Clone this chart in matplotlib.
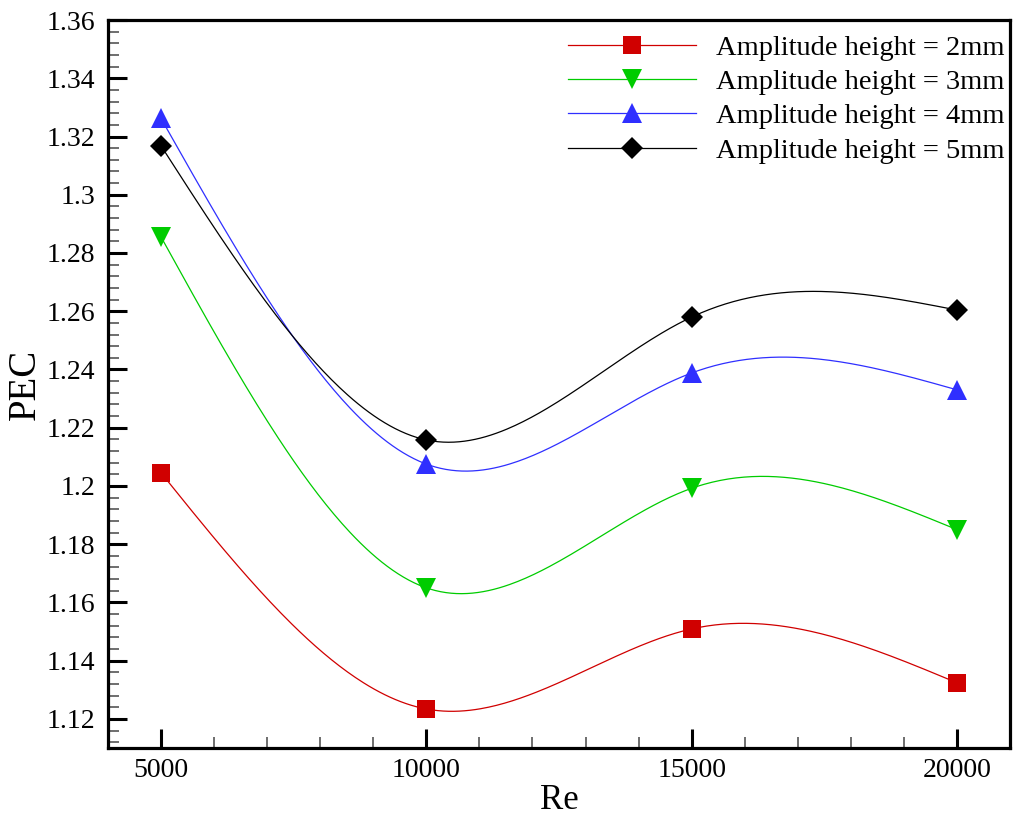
import numpy as np
import matplotlib
matplotlib.use("Agg")
import matplotlib.pyplot as plt
from matplotlib.ticker import MultipleLocator, FuncFormatter
from matplotlib.lines import Line2D

re_vals = [5000, 10000, 15000, 20000]
pec_2mm = [1.2045, 1.1234, 1.1509, 1.1324]
pec_3mm = [1.2855, 1.1650, 1.1992, 1.1850]
pec_4mm = [1.3262, 1.2075, 1.2388, 1.2330]
pec_5mm = [1.3168, 1.2158, 1.2580, 1.2604]
labels = ["Amplitude height = 2mm", "Amplitude height = 3mm",
          "Amplitude height = 4mm", "Amplitude height = 5mm"]


def natural_spline(x, y, n=300):
    x = np.asarray(x, float)
    y = np.asarray(y, float)
    m = len(x)
    h = np.diff(x)
    A = np.zeros((m, m))
    b = np.zeros(m)
    A[0, 0] = 1
    A[-1, -1] = 1
    for i in range(1, m - 1):
        A[i, i - 1] = h[i - 1]
        A[i, i] = 2 * (h[i - 1] + h[i])
        A[i, i + 1] = h[i]
        b[i] = 6 * ((y[i + 1] - y[i]) / h[i] - (y[i] - y[i - 1]) / h[i - 1])
    M = np.linalg.solve(A, b)
    xs = np.linspace(x[0], x[-1], n)
    idx = np.clip(np.searchsorted(x, xs) - 1, 0, m - 2)
    x0, x1 = x[idx], x[idx + 1]
    hh = x1 - x0
    t0 = x1 - xs
    t1 = xs - x0
    ys = (M[idx] * t0 ** 3 / (6 * hh) + M[idx + 1] * t1 ** 3 / (6 * hh)
          + (y[idx] / hh - M[idx] * hh / 6) * t0
          + (y[idx + 1] / hh - M[idx + 1] * hh / 6) * t1)
    return xs, ys


plt.rcParams['font.family'] = ['Liberation Serif', 'DejaVu Serif']

fig = plt.figure(figsize=(10.13, 8.21), dpi=100)
ax = fig.add_axes([0.1066, 0.0889, 0.8905, 0.8867])

series = [pec_2mm, pec_3mm, pec_4mm, pec_5mm]
colors = ['#d00000', '#00cc00', '#2f2fff', '#000000']
markers = ['s', 'v', '^', 'D']
msizes = [13, 14, 14, 11]

handles = []
for s, c, mk, ms, lab in zip(series, colors, markers, msizes, labels):
    xs, ys = natural_spline(re_vals, s)
    ax.plot(xs, ys, color=c, lw=0.9, zorder=2)
    ax.plot(re_vals, s, linestyle='none', marker=mk, markersize=ms,
            color=c, markeredgewidth=0, zorder=3)
    handles.append(Line2D([0], [0], color=c, lw=0.9, marker=mk,
                          markersize=ms, markeredgewidth=0))

ax.set_xlim(4000, 21000)
ax.set_ylim(1.11, 1.36)
ax.xaxis.set_major_locator(MultipleLocator(5000))
ax.xaxis.set_minor_locator(MultipleLocator(1000))
ax.yaxis.set_major_locator(MultipleLocator(0.02))
ax.yaxis.set_minor_locator(MultipleLocator(0.004))
ax.yaxis.set_major_formatter(FuncFormatter(lambda v, p: ('%.2f' % v).rstrip('0').rstrip('.')))

for sp in ax.spines.values():
    sp.set_linewidth(2.3)

ax.tick_params(which='major', direction='in', length=13.5, width=2.2,
               labelsize=20, top=False, right=False)
ax.tick_params(which='minor', direction='in', length=8, width=1.2,
               color='#555555', top=False, right=False)
ax.tick_params(axis='y', which='major', pad=9)
ax.tick_params(axis='x', which='major', pad=7)

ax.set_xlabel('Re', fontsize=25, labelpad=1)
ax.set_ylabel('PEC', fontsize=28, labelpad=2)

ax.legend(handles, labels, loc='upper right', frameon=False, fontsize=20.5,
          handlelength=4.5, handletextpad=0.7, labelspacing=0.29,
          borderaxespad=0.0, borderpad=0.25, bbox_to_anchor=(1.002, 0.989))

fig.savefig('out.png', dpi=100)
